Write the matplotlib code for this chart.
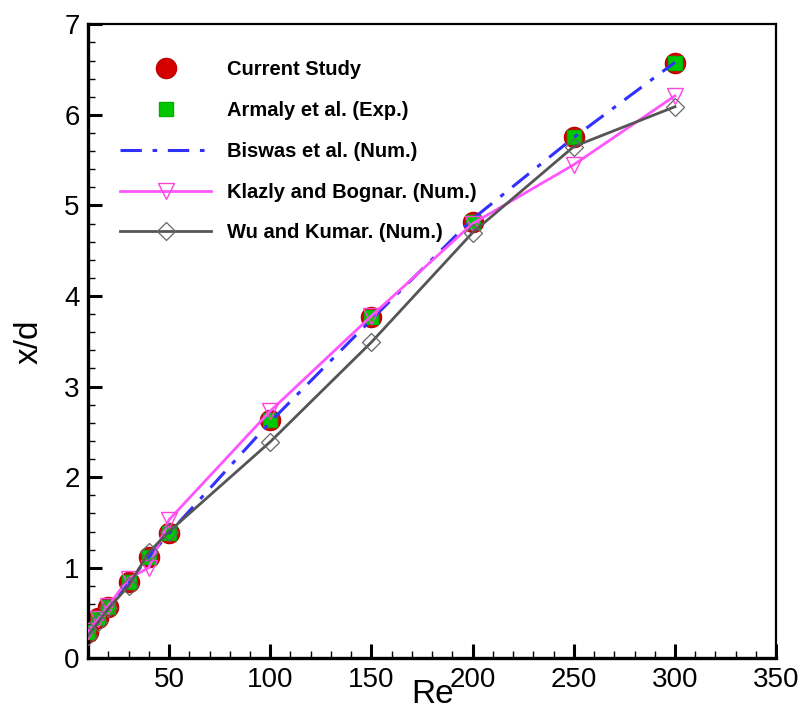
import matplotlib.pyplot as plt
from matplotlib.ticker import MultipleLocator

plt.rcParams['font.family'] = ['Liberation Sans', 'DejaVu Sans']

# Reynolds numbers and reattachment length x/d
re = [10, 15, 20, 30, 40, 50, 100, 150, 200, 250, 300]
current = [0.29, 0.44, 0.57, 0.84, 1.12, 1.38, 2.63, 3.77, 4.82, 5.76, 6.57]
armaly = [0.29, 0.44, 0.57, 0.84, 1.12, 1.38, 2.63, 3.77, 4.82, 5.76, 6.57]
biswas = [0.29, 0.43, 0.57, 0.84, 1.12, 1.38, 2.61, 3.74, 4.85, 5.75, 6.58]
klazly = [0.30, 0.43, 0.58, 0.88, 1.00, 1.53, 2.73, 3.78, 4.80, 5.45, 6.21]
wu = [0.25, 0.40, 0.55, 0.80, 1.17, 1.40, 2.39, 3.49, 4.70, 5.65, 6.09]

fig = plt.figure(figsize=(8.01, 7.14), dpi=100)
ax = fig.add_axes([0.110, 0.078, 0.859, 0.888])

ax.plot(re, current, 'o', color='#d40000', markeredgecolor='#c00000',
        markersize=14.5, label='Current Study', zorder=2)
ax.plot(re, armaly, 's', color='#00c800', markeredgecolor='#00b000',
        markersize=10.5, label='Armaly et al. (Exp.)', zorder=3)
ax.plot(re, biswas, '-.', color='#3030ff', linewidth=2.2,
        dashes=(7, 3.5, 1.5, 3.5), label='Biswas et al. (Num.)', zorder=4)
ax.plot(re, klazly, '-', color='#ff55ff', linewidth=2.0, marker='v',
        markersize=12, markerfacecolor='none', markeredgecolor='#ff44dd',
        markeredgewidth=1.0, label='Klazly and Bognar. (Num.)', zorder=4)
ax.plot(re, wu, '-', color='#555555', linewidth=2.0, marker='D',
        markersize=9, markerfacecolor='none', markeredgecolor='#666666',
        markeredgewidth=0.9, label='Wu and Kumar. (Num.)', zorder=5)

ax.set_xlim(10, 350)
ax.set_ylim(0, 7)
ax.set_xticks([50, 100, 150, 200, 250, 300, 350])
ax.xaxis.set_minor_locator(MultipleLocator(10))
ax.yaxis.set_major_locator(MultipleLocator(1))
ax.yaxis.set_minor_locator(MultipleLocator(0.2))

ax.tick_params(which='major', direction='in', length=10, width=2.2,
               labelsize=20, pad=6, top=False, right=False)
ax.tick_params(which='minor', direction='in', length=5, width=1.0,
               top=False, right=False)
for side in ['left', 'bottom']:
    ax.spines[side].set_linewidth(2.4)
for side in ['top', 'right']:
    ax.spines[side].set_linewidth(1.6)

ax.set_xlabel('Re', fontsize=24, labelpad=-10)
ax.set_ylabel('x/d', fontsize=24, labelpad=14)

ax.legend(loc='upper left', bbox_to_anchor=(0.032, 0.959), frameon=False,
          prop={'weight': 'bold', 'size': 14.5}, handlelength=4.5,
          handletextpad=0.8, labelspacing=1.08, borderpad=0, numpoints=1)

plt.savefig('out.png', dpi=100)
